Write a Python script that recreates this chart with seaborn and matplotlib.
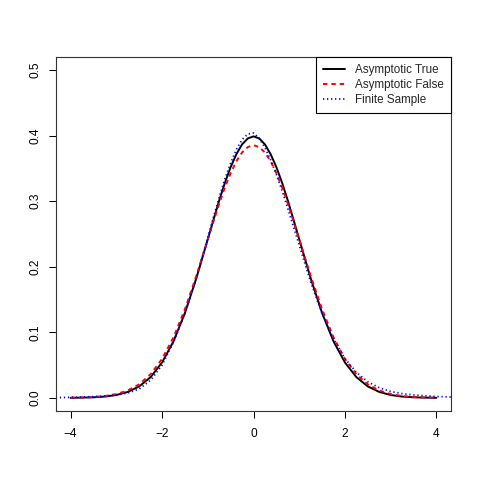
import numpy as np
import pandas as pd
import matplotlib
matplotlib.use("Agg")
import matplotlib.pyplot as plt
import seaborn as sns

# values (finer steps around the peak)
x_main = [-4.0, -3.75, -3.5, -3.25, -3.0, -2.75, -2.5, -2.25, -2.0, -1.75, -1.5, -1.25,
          -1.0, -0.875, -0.75, -0.625, -0.5, -0.375, -0.25, -0.125, 0.0,
          0.125, 0.25, 0.375, 0.5, 0.625, 0.75, 0.875, 1.0,
          1.25, 1.5, 1.75, 2.0, 2.25, 2.5, 2.75, 3.0, 3.25, 3.5, 3.75, 4.0]
asym_true = [0.0001, 0.0004, 0.0009, 0.0020, 0.0044, 0.0091, 0.0175, 0.0317, 0.0540,
             0.0863, 0.1295, 0.1826,
             0.2420, 0.2717, 0.3011, 0.3282, 0.3521, 0.3717, 0.3867, 0.3958, 0.3989,
             0.3958, 0.3867, 0.3717, 0.3521, 0.3282, 0.3011, 0.2717, 0.2420,
             0.1826, 0.1295, 0.0863, 0.0540, 0.0317, 0.0175, 0.0091, 0.0044, 0.0020,
             0.0009, 0.0004, 0.0001]
asym_false = [0.0002, 0.0006, 0.0013, 0.0028, 0.0058, 0.0113, 0.0207, 0.0361, 0.0595,
              0.0923, 0.1352, 0.1861,
              0.2416, 0.2696, 0.2964, 0.3213, 0.3428, 0.3610, 0.3744, 0.3826, 0.3855,
              0.3826, 0.3744, 0.3610, 0.3428, 0.3213, 0.2964, 0.2696, 0.2416,
              0.1861, 0.1352, 0.0923, 0.0595, 0.0361, 0.0207, 0.0113, 0.0058, 0.0028,
              0.0013, 0.0006, 0.0002]

x_finite = [-4.5, -4.25, -4.0, -3.75, -3.5, -3.25, -3.0, -2.75, -2.5, -2.25, -2.0, -1.75,
            -1.5, -1.25,
            -1.0, -0.875, -0.75, -0.625, -0.5, -0.375, -0.25, -0.125, 0.0,
            0.125, 0.25, 0.375, 0.5, 0.625, 0.75, 0.875, 1.0,
            1.25, 1.5, 1.75, 2.0, 2.25, 2.5, 2.75, 3.0, 3.25, 3.5, 3.75, 4.0, 4.25, 4.5]
finite_sample = [0.0003, 0.0005, 0.0008, 0.0012, 0.0018, 0.0028, 0.0045, 0.0075, 0.0135,
                 0.0270, 0.0500, 0.0850, 0.1290, 0.1830,
                 0.2440, 0.2760, 0.3060, 0.3340, 0.3580, 0.3790, 0.3940, 0.4025, 0.4040,
                 0.3960, 0.3820, 0.3630, 0.3410, 0.3160, 0.2890, 0.2610, 0.2330,
                 0.1770, 0.1290, 0.0900, 0.0600, 0.0390, 0.0245, 0.0155, 0.0098, 0.0065,
                 0.0045, 0.0032, 0.0022, 0.0015, 0.0010]

sns.set_style("white")
plt.rcParams['font.family'] = ['Liberation Sans', 'DejaVu Sans']
plt.rcParams['lines.scale_dashes'] = False

RED_DASH = [3.2, 2.8]
BLUE_DOT = [0.9, 2.0]
FS = 8.4

fig = plt.figure(figsize=(4.8, 4.8), dpi=100)
ax = fig.add_axes([56 / 480, 1 - 411 / 480, (451 - 56) / 480, (411 - 57) / 480])

sns.lineplot(x=x_main, y=asym_true, ax=ax, color='black', lw=1.4,
             label='Asymptotic True', sort=False)
sns.lineplot(x=x_main, y=asym_false, ax=ax, color='red', lw=1.4,
             label='Asymptotic False', sort=False)
ax.lines[-1].set_dashes(RED_DASH)
sns.lineplot(x=x_finite, y=finite_sample, ax=ax, color='blue', lw=1.3,
             label='Finite Sample', sort=False)
ax.lines[-1].set_dashes(BLUE_DOT)

ax.set_xlim(-4.32, 4.32)
ax.set_ylim(-0.02, 0.52)
ax.set_xticks([-4, -2, 0, 2, 4])
ax.set_xticklabels(['\u22124', '\u22122', '0', '2', '4'])
ax.set_yticks([0.0, 0.1, 0.2, 0.3, 0.4, 0.5])
ax.set_yticklabels(['0.0', '0.1', '0.2', '0.3', '0.4', '0.5'], rotation=90, va='center')
ax.tick_params(direction='out', length=5, width=0.75, labelsize=FS + 0.2, colors='black',
               bottom=True, left=True)
ax.tick_params(axis='x', pad=7)
ax.tick_params(axis='y', pad=5.5)
for s in ax.spines.values():
    s.set_color('#333333')
    s.set_linewidth(0.8)

leg = ax.legend(loc='upper right', borderaxespad=0, fancybox=False, framealpha=1,
                edgecolor='black', fontsize=FS, handlelength=1.9, handletextpad=0.87,
                labelspacing=0.24, borderpad=0.6)
leg.get_frame().set_linewidth(0.8)
hl = leg.get_lines()
hl[0].set_linewidth(1.4)
hl[1].set_linewidth(1.4)
hl[1].set_dashes(RED_DASH)
hl[2].set_linewidth(1.3)
hl[2].set_dashes(BLUE_DOT)

fig.savefig('out.png', dpi=100)
